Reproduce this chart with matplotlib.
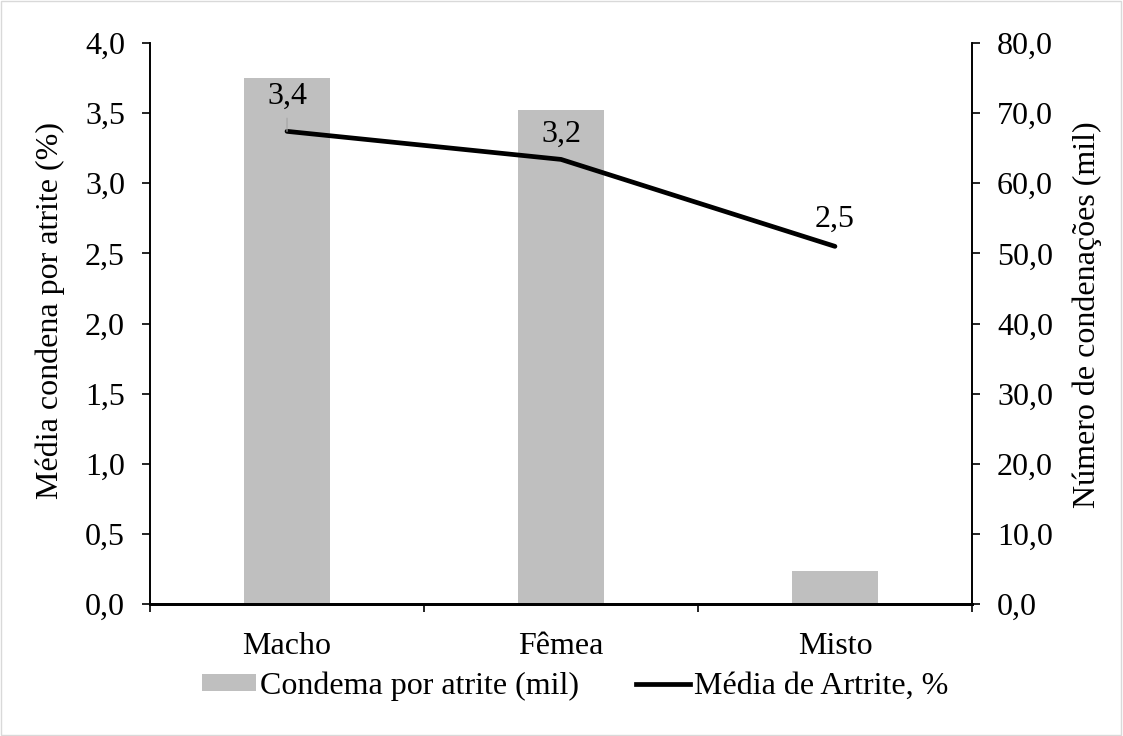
import matplotlib
matplotlib.use("Agg")
import matplotlib.pyplot as plt
from matplotlib.ticker import FuncFormatter, MultipleLocator, FixedLocator
from matplotlib.patches import Patch
from matplotlib.lines import Line2D

categories = ["Macho", "Fêmea", "Misto"]
condenas_mil = [75.0, 70.5, 4.7]
media_artrite = [3.37, 3.17, 2.55]
labels_artrite = ["3,4", "3,2", "2,5"]

plt.rcParams['font.family'] = ['Liberation Serif', 'DejaVu Serif']
plt.rcParams['font.size'] = 23

fig = plt.figure(figsize=(11.23, 7.36), dpi=100)
fig.patches.append(plt.Rectangle((0.001, 0.001), 0.997, 0.997, transform=fig.transFigure,
                                 fill=False, edgecolor='#d9d9d9', linewidth=1))
ax = fig.add_axes([0.1336, 0.1793, 0.7319, 0.7623])
ax2 = ax.twinx()
ax.set_zorder(ax2.get_zorder() + 1)
ax.patch.set_visible(False)

x = list(range(len(categories)))
ax2.bar(x, condenas_mil, width=0.314, color='#bfbfbf', zorder=1)
ax.plot(x, media_artrite, color='black', lw=3.4, solid_capstyle='round', solid_joinstyle='round')

fmt = FuncFormatter(lambda v, p: f"{v:.1f}".replace('.', ','))
ax.set_ylim(0, 4)
ax.yaxis.set_major_locator(MultipleLocator(0.5))
ax.yaxis.set_major_formatter(fmt)
ax2.set_ylim(0, 80)
ax2.yaxis.set_major_locator(MultipleLocator(10))
ax2.yaxis.set_major_formatter(fmt)

ax.set_xlim(-0.5, 2.5)
ax.set_xticks(x)
ax.set_xticklabels(categories)
ax.xaxis.set_minor_locator(FixedLocator([-0.5, 0.5, 1.5, 2.5]))
ax.tick_params(axis='x', which='major', length=0, pad=20)
ax.tick_params(axis='x', which='minor', length=6, width=1.2, direction='out')
ax.tick_params(axis='y', length=6, width=1.2, direction='out', pad=12)
ax2.tick_params(axis='y', length=6, width=1.2, direction='out', pad=12)

for a in (ax, ax2):
    a.spines['top'].set_visible(False)
    a.spines['left'].set_linewidth(1.2)
    a.spines['right'].set_linewidth(1.2)
    a.spines['bottom'].set_linewidth(2)

ax.set_ylabel("Média condena por atrite (%)")
ax2.set_ylabel("Número de condenações (mil)", rotation=90)
ax.yaxis.set_label_coords(-0.103, 0.524)
ax2.yaxis.set_label_coords(1.1229, 0.515)

# data labels
ax.annotate(labels_artrite[0], xy=(x[0], media_artrite[0]), xytext=(0, 19.5),
            textcoords='offset points', ha='center', va='baseline',
            arrowprops=dict(arrowstyle='-', color='#a6a6a6', lw=0.9, shrinkA=3, shrinkB=0))
ax.annotate(labels_artrite[1], xy=(x[1], media_artrite[1]), xytext=(0, 12.5),
            textcoords='offset points', ha='center', va='baseline')
ax.annotate(labels_artrite[2], xy=(x[2], media_artrite[2]), xytext=(0, 14),
            textcoords='offset points', ha='center', va='baseline')

handles = [Patch(facecolor='#bfbfbf', edgecolor='none'),
           Line2D([0], [0], color='black', lw=3.4)]
fig.legend(handles, ["Condema por atrite (mil)", "Média de Artrite, %"],
           loc='center', bbox_to_anchor=(0.512, 0.068), ncol=2, frameon=False,
           handlelength=1.7, handleheight=0.45, handletextpad=0.1, columnspacing=1.8)

fig.savefig("out.png", dpi=100)
